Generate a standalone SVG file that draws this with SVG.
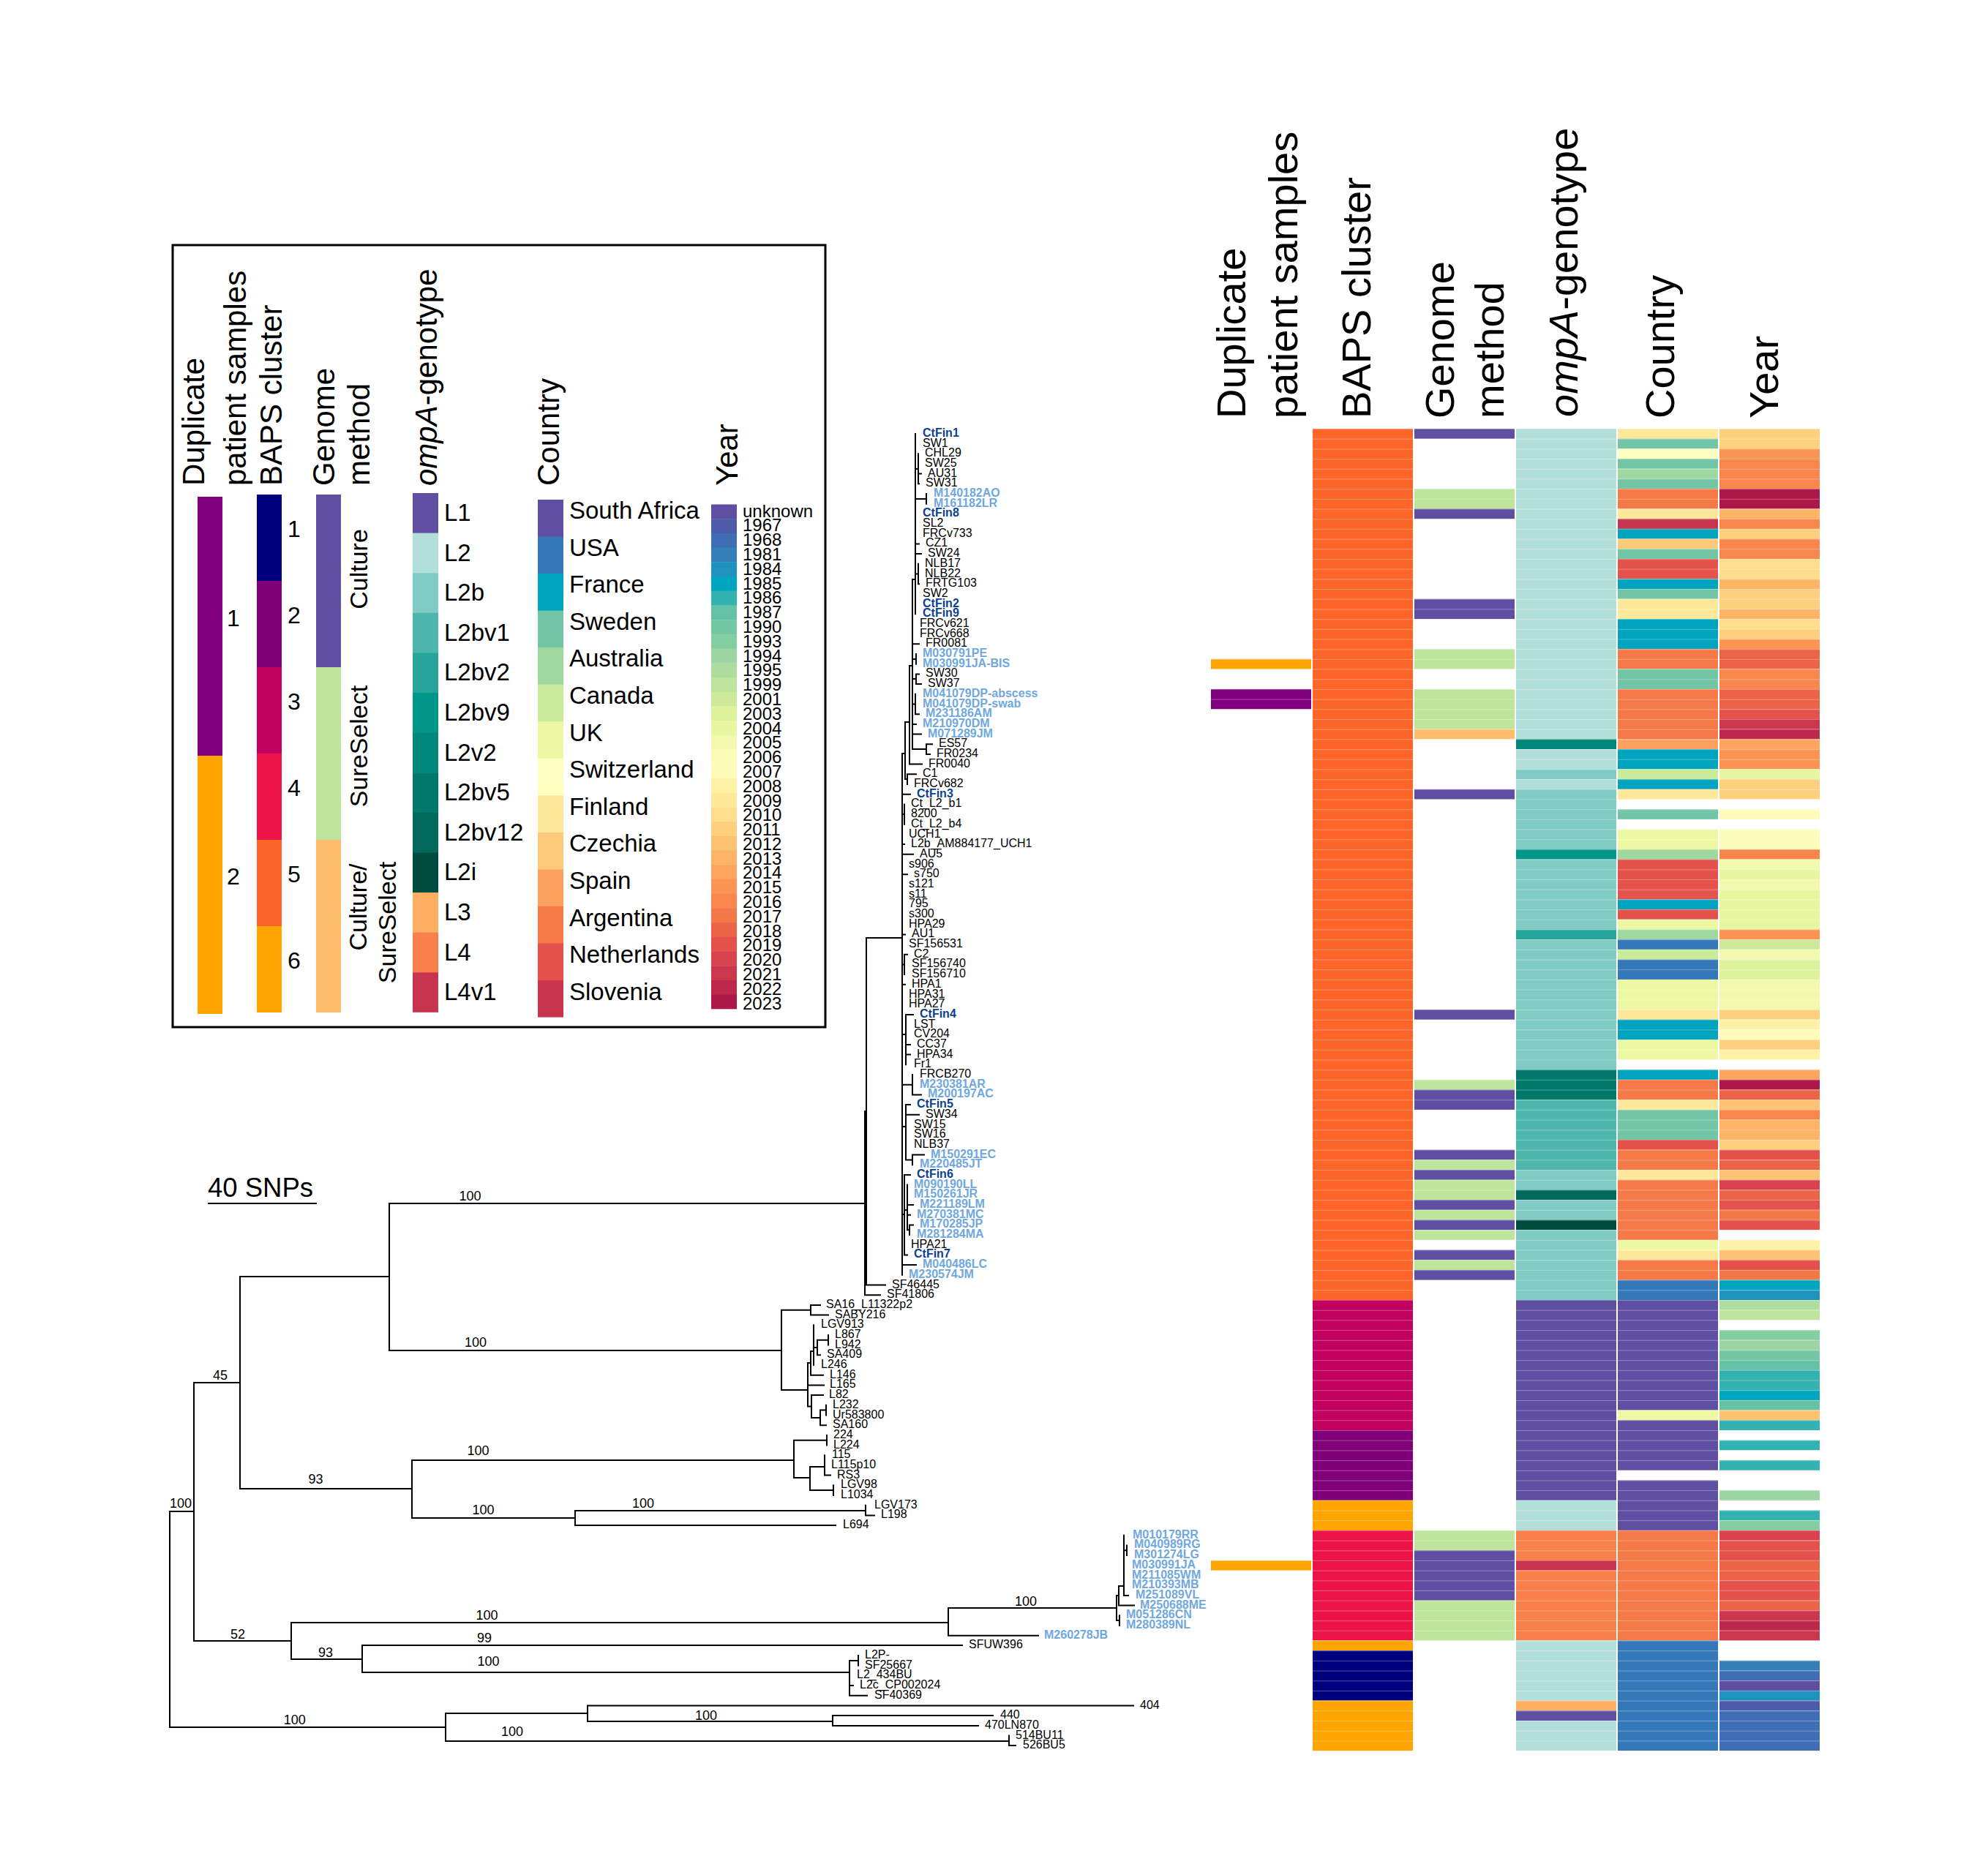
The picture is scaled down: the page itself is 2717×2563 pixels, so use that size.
<svg xmlns="http://www.w3.org/2000/svg" width="2717" height="2563" viewBox="0 0 2717 2563">
<defs>
<style>
text{font-family:"Liberation Sans",Arial,Helvetica,sans-serif;fill:#000}
.t{font-size:16px}
.cf{font-weight:bold;fill:#0B3F8F}
.m{font-weight:bold;fill:#70A8DE}
.bs{font-size:18px;text-anchor:middle}
.br{fill:none;stroke:#000;stroke-width:2;stroke-linecap:square}
.h1{font-size:56px}
.h2{font-size:42px}
.lg{font-size:33px}
.ly{font-size:24px}
.ln{font-size:32px;text-anchor:middle}
.gm{font-size:34px;text-anchor:middle}
.d1{fill:#800080}.d2{fill:#FFA500}
.b1{fill:#00007F}.b2{fill:#7F0079}.b3{fill:#C10060}.b4{fill:#EE1347}.b5{fill:#FE6529}.b6{fill:#FFA500}
.gc{fill:#5E4FA2}.gs{fill:#BEE59B}.go{fill:#FEBE6E}
.oL1{fill:#5E4FA2}.oL2{fill:#B3DFDB}.oL2b{fill:#80CBC4}.o1{fill:#4DB6AC}.o2{fill:#26A69A}.o9{fill:#009688}.ov2{fill:#00897B}.o5{fill:#00796B}.o12{fill:#00695C}.oi{fill:#004D40}.oL3{fill:#FDAE61}.oL4{fill:#F8804A}.oL4v{fill:#C8344E}
.cSA{fill:#5E4FA2}.cUS{fill:#3478BA}.cFR{fill:#00A4BE}.cSE{fill:#72C6A5}.cAU{fill:#A0D9A0}.cCA{fill:#C9EC9A}.cUK{fill:#EDF8A3}.cCH{fill:#FFFFBF}.cFI{fill:#FEE899}.cCZ{fill:#FDCA7B}.cES{fill:#FDA25E}.cAR{fill:#F57A48}.cNL{fill:#E4524B}.cSI{fill:#C8344E}
.yU{fill:#5E4FA2}.y67{fill:#4D5DAC}.y68{fill:#3F6EB4}.y81{fill:#3680BA}.y84{fill:#1F92BE}.y85{fill:#00A5BF}.y86{fill:#33B2B2}.y87{fill:#66C2A5}.y90{fill:#74C7A4}.y93{fill:#85CEA3}.y94{fill:#9AD5A2}.y95{fill:#AEDD9F}.y99{fill:#BFE49D}.y01{fill:#CDEA9B}.y03{fill:#DEF29B}.y04{fill:#E8F69F}.y05{fill:#F2F9AF}.y06{fill:#FBFDBB}.y07{fill:#FFFBBA}.y08{fill:#FFF1A6}.y09{fill:#FEE899}.y10{fill:#FEDD8C}.y11{fill:#FDD07E}.y12{fill:#FDC372}.y13{fill:#FDB466}.y14{fill:#FDA45E}.y15{fill:#FC9553}.y16{fill:#F9864C}.y17{fill:#F47748}.y18{fill:#EC6447}.y19{fill:#E4524B}.y20{fill:#D8434F}.y21{fill:#CB374D}.y22{fill:#BD284B}.y23{fill:#AE1848}
</style>
<pattern id="rl" patternUnits="userSpaceOnUse" x="0" y="586" width="20" height="13.69"><rect width="20" height="1" fill="#fff" fill-opacity="0.3"/></pattern>
</defs>
<rect width="2717" height="2563" fill="#fff"/>

<g id="legend">
<rect x="236" y="335" width="892" height="1069" fill="none" stroke="#000" stroke-width="3"/>
<text class="h2" transform="translate(279 664) rotate(-90)">Duplicate</text>
<text class="h2" transform="translate(336 664) rotate(-90)">patient samples</text>
<text class="h2" transform="translate(385 664) rotate(-90)">BAPS cluster</text>
<text class="h2" transform="translate(457 664) rotate(-90)">Genome</text>
<text class="h2" transform="translate(505 664) rotate(-90)">method</text>
<text class="h2" transform="translate(597 664) rotate(-90)"><tspan font-style="italic">ompA</tspan>-genotype</text>
<text class="h2" transform="translate(764 664) rotate(-90)">Country</text>
<text class="h2" transform="translate(1008 664) rotate(-90)">Year</text>
<rect class="d1" x="270" y="679" width="34" height="354"/>
<rect class="d2" x="270" y="1033" width="34" height="353"/>
<text class="ln" x="319" y="855.5">1</text>
<text class="ln" x="319" y="1208.5">2</text>
<rect class="b1" x="351" y="676" width="34" height="118"/>
<rect class="b2" x="351" y="794" width="34" height="118"/>
<rect class="b3" x="351" y="912" width="34" height="118"/>
<rect class="b4" x="351" y="1030" width="34" height="118"/>
<rect class="b5" x="351" y="1148" width="34" height="118"/>
<rect class="b6" x="351" y="1266" width="34" height="118"/>
<text class="ln" x="402" y="734">1</text>
<text class="ln" x="402" y="851.5">2</text>
<text class="ln" x="402" y="969.5">3</text>
<text class="ln" x="402" y="1087.5">4</text>
<text class="ln" x="402" y="1205.5">5</text>
<text class="ln" x="402" y="1323.5">6</text>
<rect class="gc" x="432" y="676" width="34" height="236"/>
<rect class="gs" x="432" y="912" width="34" height="236"/>
<rect class="go" x="432" y="1148" width="34" height="236"/>
<text class="gm" transform="translate(502 778) rotate(-90)">Culture</text>
<text class="gm" transform="translate(502 1020) rotate(-90)">SureSelect</text>
<text class="gm" transform="translate(501 1240) rotate(-90)">Culture/</text>
<text class="gm" transform="translate(541 1261) rotate(-90)">SureSelect</text>
<g transform="translate(564 674) scale(1 54.6)">
<rect class="oL1" y="0" width="35" height="1.01"/><rect class="oL2" y="1" width="35" height="1.01"/><rect class="oL2b" y="2" width="35" height="1.01"/><rect class="o1" y="3" width="35" height="1.01"/><rect class="o2" y="4" width="35" height="1.01"/><rect class="o9" y="5" width="35" height="1.01"/><rect class="ov2" y="6" width="35" height="1.01"/><rect class="o5" y="7" width="35" height="1.01"/><rect class="o12" y="8" width="35" height="1.01"/><rect class="oi" y="9" width="35" height="1.01"/><rect class="oL3" y="10" width="35" height="1.01"/><rect class="oL4" y="11" width="35" height="1.01"/><rect class="oL4v" y="12" width="35" height="1"/>
</g>
<text class="lg"><tspan x="607" y="712">L1</tspan><tspan x="607" dy="54.6">L2</tspan><tspan x="607" dy="54.6">L2b</tspan><tspan x="607" dy="54.6">L2bv1</tspan><tspan x="607" dy="54.6">L2bv2</tspan><tspan x="607" dy="54.6">L2bv9</tspan><tspan x="607" dy="54.6">L2v2</tspan><tspan x="607" dy="54.6">L2bv5</tspan><tspan x="607" dy="54.6">L2bv12</tspan><tspan x="607" dy="54.6">L2i</tspan><tspan x="607" dy="54.6">L3</tspan><tspan x="607" dy="54.6">L4</tspan><tspan x="607" dy="54.6">L4v1</tspan></text>
<g transform="translate(735 683) scale(1 50.54)">
<rect class="cSA" y="0" width="35" height="1.01"/><rect class="cUS" y="1" width="35" height="1.01"/><rect class="cFR" y="2" width="35" height="1.01"/><rect class="cSE" y="3" width="35" height="1.01"/><rect class="cAU" y="4" width="35" height="1.01"/><rect class="cCA" y="5" width="35" height="1.01"/><rect class="cUK" y="6" width="35" height="1.01"/><rect class="cCH" y="7" width="35" height="1.01"/><rect class="cFI" y="8" width="35" height="1.01"/><rect class="cCZ" y="9" width="35" height="1.01"/><rect class="cES" y="10" width="35" height="1.01"/><rect class="cAR" y="11" width="35" height="1.01"/><rect class="cNL" y="12" width="35" height="1.01"/><rect class="cSI" y="13" width="35" height="1"/>
</g>
<text class="lg"><tspan x="778" y="709">South Africa</tspan><tspan x="778" dy="50.6">USA</tspan><tspan x="778" dy="50.6">France</tspan><tspan x="778" dy="50.6">Sweden</tspan><tspan x="778" dy="50.6">Australia</tspan><tspan x="778" dy="50.6">Canada</tspan><tspan x="778" dy="50.6">UK</tspan><tspan x="778" dy="50.6">Switzerland</tspan><tspan x="778" dy="50.6">Finland</tspan><tspan x="778" dy="50.6">Czechia</tspan><tspan x="778" dy="50.6">Spain</tspan><tspan x="778" dy="50.6">Argentina</tspan><tspan x="778" dy="50.6">Netherlands</tspan><tspan x="778" dy="50.6">Slovenia</tspan></text>
<g transform="translate(972 689.5) scale(1 19.71)">
<rect class="yU" y="0" width="35" height="1.02"/><rect class="y67" y="1" width="35" height="1.02"/><rect class="y68" y="2" width="35" height="1.02"/><rect class="y81" y="3" width="35" height="1.02"/><rect class="y84" y="4" width="35" height="1.02"/><rect class="y85" y="5" width="35" height="1.02"/><rect class="y86" y="6" width="35" height="1.02"/><rect class="y87" y="7" width="35" height="1.02"/><rect class="y90" y="8" width="35" height="1.02"/><rect class="y93" y="9" width="35" height="1.02"/><rect class="y94" y="10" width="35" height="1.02"/><rect class="y95" y="11" width="35" height="1.02"/><rect class="y99" y="12" width="35" height="1.02"/><rect class="y01" y="13" width="35" height="1.02"/><rect class="y03" y="14" width="35" height="1.02"/><rect class="y04" y="15" width="35" height="1.02"/><rect class="y05" y="16" width="35" height="1.02"/><rect class="y06" y="17" width="35" height="1.02"/><rect class="y07" y="18" width="35" height="1.02"/><rect class="y08" y="19" width="35" height="1.02"/><rect class="y09" y="20" width="35" height="1.02"/><rect class="y10" y="21" width="35" height="1.02"/><rect class="y11" y="22" width="35" height="1.02"/><rect class="y12" y="23" width="35" height="1.02"/><rect class="y13" y="24" width="35" height="1.02"/><rect class="y14" y="25" width="35" height="1.02"/><rect class="y15" y="26" width="35" height="1.02"/><rect class="y16" y="27" width="35" height="1.02"/><rect class="y17" y="28" width="35" height="1.02"/><rect class="y18" y="29" width="35" height="1.02"/><rect class="y19" y="30" width="35" height="1.02"/><rect class="y20" y="31" width="35" height="1.02"/><rect class="y21" y="32" width="35" height="1.02"/><rect class="y22" y="33" width="35" height="1.02"/><rect class="y23" y="34" width="35" height="1"/>
</g>
<text class="ly"><tspan x="1015" y="706.5">unknown</tspan><tspan x="1015" dy="19.8">1967</tspan><tspan x="1015" dy="19.8">1968</tspan><tspan x="1015" dy="19.8">1981</tspan><tspan x="1015" dy="19.8">1984</tspan><tspan x="1015" dy="19.8">1985</tspan><tspan x="1015" dy="19.8">1986</tspan><tspan x="1015" dy="19.8">1987</tspan><tspan x="1015" dy="19.8">1990</tspan><tspan x="1015" dy="19.8">1993</tspan><tspan x="1015" dy="19.8">1994</tspan><tspan x="1015" dy="19.8">1995</tspan><tspan x="1015" dy="19.8">1999</tspan><tspan x="1015" dy="19.8">2001</tspan><tspan x="1015" dy="19.8">2003</tspan><tspan x="1015" dy="19.8">2004</tspan><tspan x="1015" dy="19.8">2005</tspan><tspan x="1015" dy="19.8">2006</tspan><tspan x="1015" dy="19.8">2007</tspan><tspan x="1015" dy="19.8">2008</tspan><tspan x="1015" dy="19.8">2009</tspan><tspan x="1015" dy="19.8">2010</tspan><tspan x="1015" dy="19.8">2011</tspan><tspan x="1015" dy="19.8">2012</tspan><tspan x="1015" dy="19.8">2013</tspan><tspan x="1015" dy="19.8">2014</tspan><tspan x="1015" dy="19.8">2015</tspan><tspan x="1015" dy="19.8">2016</tspan><tspan x="1015" dy="19.8">2017</tspan><tspan x="1015" dy="19.8">2018</tspan><tspan x="1015" dy="19.8">2019</tspan><tspan x="1015" dy="19.8">2020</tspan><tspan x="1015" dy="19.8">2021</tspan><tspan x="1015" dy="19.8">2022</tspan><tspan x="1015" dy="19.8">2023</tspan></text>
</g>

<g id="scalebar">
<text x="284" y="1636" font-size="36.5">40 SNPs</text>
<path d="M284 1645H433" stroke="#000" stroke-width="2"/>
</g>

<g id="connectors">
<path class="br" d="M232 2066V2361M232 2066H265M265 1890V2243M265 1890H328M328 1745V2035M328 1745H532M532 1645V1846M532 1645H1182M532 1846H1068M328 2035H563M563 1996V2075M563 1996H1085M563 2075H786M786 2065V2085M786 2065H1183M786 2085H1142M265 2243H398M398 2218V2268M398 2218H1296M398 2268H495M495 2249V2286M495 2249H1315M495 2286H1161M232 2361H609M609 2342V2380M609 2342H803M609 2380H1379M803 2331.5V2353M803 2331.5H1549M803 2353H1138M1138 2345V2359M1138 2345H1357M1138 2359H1337M1379 2372.6V2386M1379 2386H1388
M1068 1790.8V1900M1068 1790.8H1108M1108 1783.9V1797.6M1108 1783.9H1121M1108 1797.6H1132M1068 1900H1104M1104 1863V1922.5M1104 1863H1108M1108 1847V1879.7M1108 1879.7H1125M1108 1847H1112M1112 1811.3V1866M1112 1842H1117M1117 1831.8V1852.3M1117 1852.3H1121M1117 1831.8H1132M1132 1825V1838.6M1104 1893.4H1126M1104 1922.5H1109M1109 1907.1V1937.9M1109 1907.1H1125M1109 1937.9H1121M1121 1927.6V1948.2M1121 1948.2H1129M1121 1927.6H1129M1129 1920.8V1934.5
M1085 1968.7V2020M1085 1968.7H1130M1130 1961.9V1975.5M1085 2020H1107M1107 2005V2037M1107 2005H1127M1127 1989.2V2016.6M1127 2016.6H1135M1107 2037H1139M1139 2030.3V2044
M1183 2057.7V2071.4M1183 2071.4H1195
M1296 2198V2235.7M1296 2235.7H1419M1296 2198H1526M1526 2181V2215M1526 2181H1529M1529 2168V2194.6M1529 2194.6H1550M1529 2168H1536M1536 2098.8V2180.9M1536 2119.3H1540M1540 2112.4V2126.1M1536 2180.9H1542M1526 2215H1530M1530 2208.3V2222
M1161 2270V2317.8M1161 2270H1173M1173 2263V2276.7M1161 2304.1H1166M1161 2317.8H1185
M1182 1519V1770.2M1182 1519H1184M1182 1770.2H1203M1184 1282V1756.5M1184 1756.5H1210M1184 1282H1233M1233 1030V1742.8M1233 1030H1237M1237 987V1065M1237 987H1243M1237 1065H1240M1240 1058.3V1072M1240 1058.3H1252M1243 910V1044.6M1243 910H1247M1243 1044.6H1260M1247 792V1024M1247 792H1251
M1251 592.9V839.3M1251 641H1255M1255 620.2V661.3M1255 647.6H1259M1255 661.3H1256M1251 682H1266M1266 675V688.7M1251 743.4H1256M1251 757.1H1259M1251 784.5H1255M1255 770.8V798.2M1255 798.2H1256
M1247 880.3H1256M1247 901H1252M1252 894V907.7M1247 928H1252M1252 921.4V935.1M1252 921.4H1256M1252 935.1H1259M1247 962.5H1251M1251 948.8V976.2M1251 976.2H1256M1247 989.9H1252M1247 1003.6H1259M1247 1024H1266M1266 1017.2V1030.9M1266 1017.2H1274M1266 1030.9H1271
M1233 1085.7H1244M1233 1113.1H1236M1236 1099.4V1126.8M1233 1154.1H1236M1233 1167.8H1248M1233 1195.2H1240M1233 1277.4H1237M1233 1318.4H1236M1236 1304.7V1332.1M1236 1304.7H1240M1233 1345.8H1237M1233 1414H1238M1238 1386.9V1455.3M1238 1386.9H1248M1238 1427.9H1244M1238 1441.6H1244M1233 1482.7H1247M1247 1469V1496.4M1247 1496.4H1259M1233 1540H1238M1238 1510.1V1585.4M1238 1510.1H1244M1238 1523.8H1256M1238 1585.4H1247M1247 1578.5V1592.2M1247 1578.5H1263M1233 1660H1236M1236 1605.9V1715.4M1236 1605.9H1244M1236 1715.4H1240M1236 1654H1240M1240 1619.6V1681.3M1240 1647H1248M1240 1660.7H1244M1240 1681.3H1243M1243 1674.4V1688.1M1243 1674.4H1248M1233 1729.1H1252"/>
</g>

<g id="bootstrap">
<text class="bs" x="642.5" y="1641">100</text>
<text class="bs" x="650" y="1841">100</text>
<text class="bs" x="301" y="1886">45</text>
<text class="bs" x="653.5" y="1989">100</text>
<text class="bs" x="431.5" y="2028">93</text>
<text class="bs" x="660.5" y="2070">100</text>
<text class="bs" x="879" y="2061">100</text>
<text class="bs" x="247" y="2061">100</text>
<text class="bs" x="325" y="2240">52</text>
<text class="bs" x="665.5" y="2214">100</text>
<text class="bs" x="662" y="2245">99</text>
<text class="bs" x="445" y="2265">93</text>
<text class="bs" x="667.5" y="2277">100</text>
<text class="bs" x="402.7" y="2357">100</text>
<text class="bs" x="965" y="2351">100</text>
<text class="bs" x="700" y="2373">100</text>
<text class="bs" x="1402" y="2195">100</text>
</g>

<g id="tips" class="t" transform="translate(0 -1.5)">
<text class="t cf" x="1261" y="598.4">CtFin1</text>
<text class="t" x="1261" y="612">SW1</text>
<text class="t" x="1264" y="625.7">CHL29</text>
<text class="t" x="1264" y="639.4">SW25</text>
<text class="t" x="1268" y="653.1">AU31</text>
<text class="t" x="1265" y="666.8">SW31</text>
<text class="t m" x="1276" y="680.5">M140182AO</text>
<text class="t m" x="1276" y="694.2">M161182LR</text>
<text class="t cf" x="1261" y="707.9">CtFin8</text>
<text class="t" x="1261" y="721.6">SL2</text>
<text class="t" x="1261" y="735.3">FRCv733</text>
<text class="t" x="1265" y="748.9">CZ1</text>
<text class="t" x="1268" y="762.6">SW24</text>
<text class="t" x="1264" y="776.3">NLB17</text>
<text class="t" x="1264" y="790">NLB22</text>
<text class="t" x="1265" y="803.7">FRTG103</text>
<text class="t" x="1261" y="817.4">SW2</text>
<text class="t cf" x="1261" y="831.1">CtFin2</text>
<text class="t cf" x="1261" y="844.8">CtFin9</text>
<text class="t" x="1257" y="858.5">FRCv621</text>
<text class="t" x="1257" y="872.2">FRCv668</text>
<text class="t" x="1265" y="885.8">FR0081</text>
<text class="t m" x="1261" y="899.5">M030791PE</text>
<text class="t m" x="1261" y="913.2">M030991JA-BIS</text>
<text class="t" x="1265" y="926.9">SW30</text>
<text class="t" x="1268" y="940.6">SW37</text>
<text class="t m" x="1261" y="954.3">M041079DP-abscess</text>
<text class="t m" x="1261" y="968">M041079DP-swab</text>
<text class="t m" x="1265" y="981.7">M231186AM</text>
<text class="t m" x="1261" y="995.4">M210970DM</text>
<text class="t m" x="1268" y="1009.1">M071289JM</text>
<text class="t" x="1283" y="1022.7">ES57</text>
<text class="t" x="1280" y="1036.4">FR0234</text>
<text class="t" x="1269" y="1050.1">FR0040</text>
<text class="t" x="1261" y="1063.8">C1</text>
<text class="t" x="1249" y="1077.5">FRCv682</text>
<text class="t cf" x="1253" y="1091.2">CtFin3</text>
<text class="t" x="1245" y="1104.9">Ct_L2_b1</text>
<text class="t" x="1245" y="1118.6">8200</text>
<text class="t" x="1245" y="1132.3">Ct_L2_b4</text>
<text class="t" x="1242" y="1146">UCH1</text>
<text class="t" x="1245" y="1159.6">L2b_AM884177_UCH1</text>
<text class="t" x="1257" y="1173.3">AU5</text>
<text class="t" x="1242" y="1187">s906</text>
<text class="t" x="1249" y="1200.7">s750</text>
<text class="t" x="1242" y="1214.4">s121</text>
<text class="t" x="1242" y="1228.1">s11</text>
<text class="t" x="1242" y="1241.8">795</text>
<text class="t" x="1242" y="1255.5">s300</text>
<text class="t" x="1242" y="1269.2">HPA29</text>
<text class="t" x="1246" y="1282.9">AU1</text>
<text class="t" x="1242" y="1296.5">SF156531</text>
<text class="t" x="1249" y="1310.2">C2</text>
<text class="t" x="1246" y="1323.9">SF156740</text>
<text class="t" x="1246" y="1337.6">SF156710</text>
<text class="t" x="1246" y="1351.3">HPA1</text>
<text class="t" x="1242" y="1365">HPA31</text>
<text class="t" x="1242" y="1378.7">HPA27</text>
<text class="t cf" x="1257" y="1392.4">CtFin4</text>
<text class="t" x="1249" y="1406.1">LST</text>
<text class="t" x="1249" y="1419.8">CV204</text>
<text class="t" x="1253" y="1433.4">CC37</text>
<text class="t" x="1253" y="1447.1">HPA34</text>
<text class="t" x="1249" y="1460.8">Fr1</text>
<text class="t" x="1257" y="1474.5">FRCB270</text>
<text class="t m" x="1257" y="1488.2">M230381AR</text>
<text class="t m" x="1268" y="1501.9">M200197AC</text>
<text class="t cf" x="1253" y="1515.6">CtFin5</text>
<text class="t" x="1265" y="1529.3">SW34</text>
<text class="t" x="1249" y="1543">SW15</text>
<text class="t" x="1249" y="1556.7">SW16</text>
<text class="t" x="1249" y="1570.3">NLB37</text>
<text class="t m" x="1272" y="1584">M150291EC</text>
<text class="t m" x="1257" y="1597.7">M220485JT</text>
<text class="t cf" x="1253" y="1611.4">CtFin6</text>
<text class="t m" x="1249" y="1625.1">M090190LL</text>
<text class="t m" x="1249" y="1638.8">M150261JR</text>
<text class="t m" x="1257" y="1652.5">M221189LM</text>
<text class="t m" x="1253" y="1666.2">M270381MC</text>
<text class="t m" x="1257" y="1679.9">M170285JP</text>
<text class="t m" x="1253" y="1693.6">M281284MA</text>
<text class="t" x="1245" y="1707.2">HPA21</text>
<text class="t cf" x="1249" y="1720.9">CtFin7</text>
<text class="t m" x="1261" y="1734.6">M040486LC</text>
<text class="t m" x="1242" y="1748.3">M230574JM</text>
<text class="t" x="1219" y="1762">SF46445</text>
<text class="t" x="1212" y="1775.7">SF41806</text>
<text class="t" x="1129" y="1789.4">SA16_L11322p2</text>
<text class="t" x="1141" y="1803.1">SABY216</text>
<text class="t" x="1122" y="1816.8">LGV913</text>
<text class="t" x="1141" y="1830.5">L867</text>
<text class="t" x="1141" y="1844.1">L942</text>
<text class="t" x="1130" y="1857.8">SA409</text>
<text class="t" x="1122" y="1871.5">L246</text>
<text class="t" x="1134" y="1885.2">L146</text>
<text class="t" x="1134" y="1898.9">L165</text>
<text class="t" x="1133" y="1912.6">L82</text>
<text class="t" x="1138" y="1926.3">L232</text>
<text class="t" x="1138" y="1940">Ur583800</text>
<text class="t" x="1138" y="1953.7">SA160</text>
<text class="t" x="1139" y="1967.4">224</text>
<text class="t" x="1139" y="1981">L224</text>
<text class="t" x="1137" y="1994.7">115</text>
<text class="t" x="1136" y="2008.4">L115p10</text>
<text class="t" x="1144" y="2022.1">RS3</text>
<text class="t" x="1149" y="2035.8">LGV98</text>
<text class="t" x="1149" y="2049.5">L1034</text>
<text class="t" x="1195" y="2063.2">LGV173</text>
<text class="t" x="1204" y="2076.9">L198</text>
<text class="t" x="1152" y="2090.6">L694</text>
<text class="t m" x="1548" y="2104.3">M010179RR</text>
<text class="t m" x="1550" y="2117.9">M040989RG</text>
<text class="t m" x="1550" y="2131.6">M301274LG</text>
<text class="t m" x="1547" y="2145.3">M030991JA</text>
<text class="t m" x="1547" y="2159">M211085WM</text>
<text class="t m" x="1547" y="2172.7">M210393MB</text>
<text class="t m" x="1552" y="2186.4">M251089VL</text>
<text class="t m" x="1558" y="2200.1">M250688ME</text>
<text class="t m" x="1539" y="2213.8">M051286CN</text>
<text class="t m" x="1539" y="2227.5">M280389NL</text>
<text class="t m" x="1427" y="2241.2">M260278JB</text>
<text class="t" x="1324" y="2254.8">SFUW396</text>
<text class="t" x="1182" y="2268.5">L2P-</text>
<text class="t" x="1182" y="2282.2">SF25667</text>
<text class="t" x="1171" y="2295.9">L2_434BU</text>
<text class="t" x="1175" y="2309.6">L2c_CP002024</text>
<text class="t" x="1195" y="2323.3">SF40369</text>
<text class="t" x="1558" y="2337">404</text>
<text class="t" x="1367" y="2350.7">440</text>
<text class="t" x="1346" y="2364.4">470LN870</text>
<text class="t" x="1388" y="2378.1">514BU11</text>
<text class="t" x="1398" y="2391.7">526BU5</text>
</g>

<g id="heatmap-headers">
<text class="h1" transform="translate(1702 572) rotate(-90)">Duplicate</text>
<text class="h1" transform="translate(1773 572) rotate(-90)">patient samples</text>
<text class="h1" transform="translate(1873 572) rotate(-90)">BAPS cluster</text>
<text class="h1" transform="translate(1987 572) rotate(-90)">Genome</text>
<text class="h1" transform="translate(2055 572) rotate(-90)">method</text>
<text class="h1" transform="translate(2156 570) rotate(-90)"><tspan font-style="italic">ompA</tspan>-genotype</text>
<text class="h1" transform="translate(2288 572) rotate(-90)">Country</text>
<text class="h1" transform="translate(2430 572) rotate(-90)">Year</text>
</g>

<g id="heatmap">
<g transform="translate(0 586) scale(1 13.69)">
<g id="col-duplicate" transform="translate(1655 0)">
<rect class="d2" y="23" width="137" height="1"/><rect class="d1" y="26" width="137" height="2"/><rect class="d2" y="113" width="137" height="1"/>
</g>
<g id="col-baps" transform="translate(1794 0)">
<rect class="b5" y="0" width="137" height="87"/><rect class="b3" y="87" width="137" height="13"/><rect class="b2" y="100" width="137" height="7"/><rect class="b6" y="107" width="137" height="3"/><rect class="b4" y="110" width="137" height="11"/><rect class="b6" y="121" width="137" height="1"/><rect class="b1" y="122" width="137" height="5"/><rect class="b6" y="127" width="137" height="5"/>
</g>
<g id="col-genome" transform="translate(1933 0)">
<rect class="gc" y="0" width="137" height="1"/><rect class="gs" y="6" width="137" height="2"/><rect class="gc" y="8" width="137" height="1"/><rect class="gc" y="17" width="137" height="2"/><rect class="gs" y="22" width="137" height="2"/><rect class="gs" y="26" width="137" height="4"/><rect class="go" y="30" width="137" height="1"/><rect class="gc" y="36" width="137" height="1"/><rect class="gc" y="58" width="137" height="1"/><rect class="gs" y="65" width="137" height="1"/><rect class="gc" y="66" width="137" height="2"/><rect class="gc" y="72" width="137" height="1"/><rect class="gs" y="73" width="137" height="1"/><rect class="gc" y="74" width="137" height="1"/><rect class="gs" y="75" width="137" height="2"/><rect class="gc" y="77" width="137" height="1"/><rect class="gs" y="78" width="137" height="1"/><rect class="gc" y="79" width="137" height="1"/><rect class="gs" y="80" width="137" height="1"/><rect class="gc" y="82" width="137" height="1"/><rect class="gs" y="83" width="137" height="1"/><rect class="gc" y="84" width="137" height="1"/><rect class="gs" y="110" width="137" height="2"/><rect class="gc" y="112" width="137" height="5"/><rect class="gs" y="117" width="137" height="4"/>
</g>
<g id="col-ompa" transform="translate(2072 0)">
<rect class="oL2" y="0" width="137" height="31"/><rect class="ov2" y="31" width="137" height="1"/><rect class="oL2" y="32" width="137" height="2"/><rect class="oL2b" y="34" width="137" height="1"/><rect class="oL2" y="35" width="137" height="1"/><rect class="oL2b" y="36" width="137" height="6"/><rect class="o9" y="42" width="137" height="1"/><rect class="oL2b" y="43" width="137" height="7"/><rect class="o2" y="50" width="137" height="1"/><rect class="oL2b" y="51" width="137" height="13"/><rect class="o5" y="64" width="137" height="3"/><rect class="o1" y="67" width="137" height="7"/><rect class="oL2b" y="74" width="137" height="2"/><rect class="o12" y="76" width="137" height="1"/><rect class="oL2b" y="77" width="137" height="2"/><rect class="oi" y="79" width="137" height="1"/><rect class="oL2b" y="80" width="137" height="7"/><rect class="oL1" y="87" width="137" height="20"/><rect class="oL2" y="107" width="137" height="3"/><rect class="oL4" y="110" width="137" height="3"/><rect class="oL4v" y="113" width="137" height="1"/><rect class="oL4" y="114" width="137" height="7"/><rect class="oL2" y="121" width="137" height="6"/><rect class="oL3" y="127" width="137" height="1"/><rect class="oL1" y="128" width="137" height="1"/><rect class="oL2" y="129" width="137" height="3"/>
</g>
<g id="col-country" transform="translate(2211 0)">
<rect class="cFI" y="0" width="137" height="1"/><rect class="cSE" y="1" width="137" height="1"/><rect class="cCH" y="2" width="137" height="1"/><rect class="cSE" y="3" width="137" height="1"/><rect class="cAU" y="4" width="137" height="1"/><rect class="cSE" y="5" width="137" height="1"/><rect class="cAR" y="6" width="137" height="2"/><rect class="cFI" y="8" width="137" height="1"/><rect class="cSI" y="9" width="137" height="1"/><rect class="cFR" y="10" width="137" height="1"/><rect class="cCZ" y="11" width="137" height="1"/><rect class="cSE" y="12" width="137" height="1"/><rect class="cNL" y="13" width="137" height="2"/><rect class="cFR" y="15" width="137" height="1"/><rect class="cSE" y="16" width="137" height="1"/><rect class="cFI" y="17" width="137" height="2"/><rect class="cFR" y="19" width="137" height="3"/><rect class="cAR" y="22" width="137" height="2"/><rect class="cSE" y="24" width="137" height="2"/><rect class="cAR" y="26" width="137" height="5"/><rect class="cES" y="31" width="137" height="1"/><rect class="cFR" y="32" width="137" height="2"/><rect class="cCA" y="34" width="137" height="1"/><rect class="cFR" y="35" width="137" height="1"/><rect class="cFI" y="36" width="137" height="1"/><rect class="cSE" y="38" width="137" height="1"/><rect class="cUK" y="40" width="137" height="2"/><rect class="cAU" y="42" width="137" height="1"/><rect class="cNL" y="43" width="137" height="4"/><rect class="cFR" y="47" width="137" height="1"/><rect class="cNL" y="48" width="137" height="1"/><rect class="cUK" y="49" width="137" height="1"/><rect class="cAU" y="50" width="137" height="1"/><rect class="cUS" y="51" width="137" height="1"/><rect class="cCA" y="52" width="137" height="1"/><rect class="cUS" y="53" width="137" height="2"/><rect class="cUK" y="55" width="137" height="3"/><rect class="cFI" y="58" width="137" height="1"/><rect class="cFR" y="59" width="137" height="2"/><rect class="cUK" y="61" width="137" height="2"/><rect class="cFR" y="64" width="137" height="1"/><rect class="cAR" y="65" width="137" height="2"/><rect class="cFI" y="67" width="137" height="1"/><rect class="cSE" y="68" width="137" height="3"/><rect class="cNL" y="71" width="137" height="1"/><rect class="cAR" y="72" width="137" height="2"/><rect class="cFI" y="74" width="137" height="1"/><rect class="cAR" y="75" width="137" height="6"/><rect class="cUK" y="81" width="137" height="1"/><rect class="cFI" y="82" width="137" height="1"/><rect class="cAR" y="83" width="137" height="2"/><rect class="cUS" y="85" width="137" height="2"/><rect class="cSA" y="87" width="137" height="11"/><rect class="cUK" y="98" width="137" height="1"/><rect class="cSA" y="99" width="137" height="5"/><rect class="cSA" y="105" width="137" height="5"/><rect class="cAR" y="110" width="137" height="11"/><rect class="cUS" y="121" width="137" height="11"/>
</g>
<g id="col-year" transform="translate(2350 0)">
<rect class="y11" y="0" width="137" height="2"/><rect class="y15" y="2" width="137" height="1"/><rect class="y16" y="3" width="137" height="3"/><rect class="y23" y="6" width="137" height="2"/><rect class="y13" y="8" width="137" height="1"/><rect class="y16" y="9" width="137" height="1"/><rect class="y11" y="10" width="137" height="1"/><rect class="y16" y="11" width="137" height="2"/><rect class="y10" y="13" width="137" height="2"/><rect class="y13" y="15" width="137" height="1"/><rect class="y11" y="16" width="137" height="2"/><rect class="y13" y="18" width="137" height="1"/><rect class="y10" y="19" width="137" height="1"/><rect class="y11" y="20" width="137" height="1"/><rect class="y15" y="21" width="137" height="1"/><rect class="y18" y="22" width="137" height="2"/><rect class="y16" y="24" width="137" height="2"/><rect class="y18" y="26" width="137" height="2"/><rect class="y19" y="28" width="137" height="1"/><rect class="y21" y="29" width="137" height="1"/><rect class="y22" y="30" width="137" height="1"/><rect class="y14" y="31" width="137" height="1"/><rect class="y15" y="32" width="137" height="2"/><rect class="y04" y="34" width="137" height="1"/><rect class="y11" y="35" width="137" height="2"/><rect class="y07" y="38" width="137" height="1"/><rect class="y06" y="40" width="137" height="2"/><rect class="y16" y="42" width="137" height="1"/><rect class="y05" y="43" width="137" height="1"/><rect class="y04" y="44" width="137" height="1"/><rect class="y05" y="45" width="137" height="1"/><rect class="y04" y="46" width="137" height="4"/><rect class="y15" y="50" width="137" height="1"/><rect class="y01" y="51" width="137" height="1"/><rect class="y05" y="52" width="137" height="1"/><rect class="y03" y="53" width="137" height="2"/><rect class="y05" y="55" width="137" height="3"/><rect class="y11" y="58" width="137" height="1"/><rect class="y08" y="59" width="137" height="1"/><rect class="y07" y="60" width="137" height="1"/><rect class="y11" y="61" width="137" height="1"/><rect class="y08" y="62" width="137" height="1"/><rect class="y14" y="64" width="137" height="1"/><rect class="y23" y="65" width="137" height="1"/><rect class="y18" y="66" width="137" height="1"/><rect class="y12" y="67" width="137" height="1"/><rect class="y16" y="68" width="137" height="1"/><rect class="y13" y="69" width="137" height="2"/><rect class="y11" y="71" width="137" height="1"/><rect class="y19" y="72" width="137" height="1"/><rect class="y18" y="73" width="137" height="1"/><rect class="y12" y="74" width="137" height="1"/><rect class="y20" y="75" width="137" height="1"/><rect class="y18" y="76" width="137" height="1"/><rect class="y19" y="77" width="137" height="1"/><rect class="y17" y="78" width="137" height="1"/><rect class="y19" y="79" width="137" height="1"/><rect class="y08" y="81" width="137" height="1"/><rect class="y12" y="82" width="137" height="1"/><rect class="y19" y="83" width="137" height="1"/><rect class="y17" y="84" width="137" height="1"/><rect class="y85" y="85" width="137" height="1"/><rect class="y84" y="86" width="137" height="1"/><rect class="y95" y="87" width="137" height="1"/><rect class="y99" y="88" width="137" height="1"/><rect class="y93" y="90" width="137" height="1"/><rect class="y94" y="91" width="137" height="1"/><rect class="y90" y="92" width="137" height="1"/><rect class="y87" y="93" width="137" height="1"/><rect class="y86" y="94" width="137" height="2"/><rect class="y85" y="96" width="137" height="1"/><rect class="y87" y="97" width="137" height="1"/><rect class="y12" y="98" width="137" height="1"/><rect class="y86" y="99" width="137" height="1"/><rect class="y86" y="101" width="137" height="1"/><rect class="y86" y="103" width="137" height="1"/><rect class="y94" y="106" width="137" height="1"/><rect class="y86" y="108" width="137" height="1"/><rect class="y93" y="109" width="137" height="1"/><rect class="y20" y="110" width="137" height="1"/><rect class="y19" y="111" width="137" height="2"/><rect class="y18" y="113" width="137" height="2"/><rect class="y19" y="115" width="137" height="2"/><rect class="y18" y="117" width="137" height="1"/><rect class="y21" y="118" width="137" height="1"/><rect class="y22" y="119" width="137" height="1"/><rect class="y21" y="120" width="137" height="1"/><rect class="y81" y="123" width="137" height="1"/><rect class="y68" y="124" width="137" height="1"/><rect class="yU" y="125" width="137" height="1"/><rect class="y84" y="126" width="137" height="1"/><rect class="y67" y="127" width="137" height="1"/><rect class="y68" y="128" width="137" height="4"/>
</g>
</g>
<rect x="1655" y="586" width="832" height="1807" fill="url(#rl)"/>
</g>
</svg>
